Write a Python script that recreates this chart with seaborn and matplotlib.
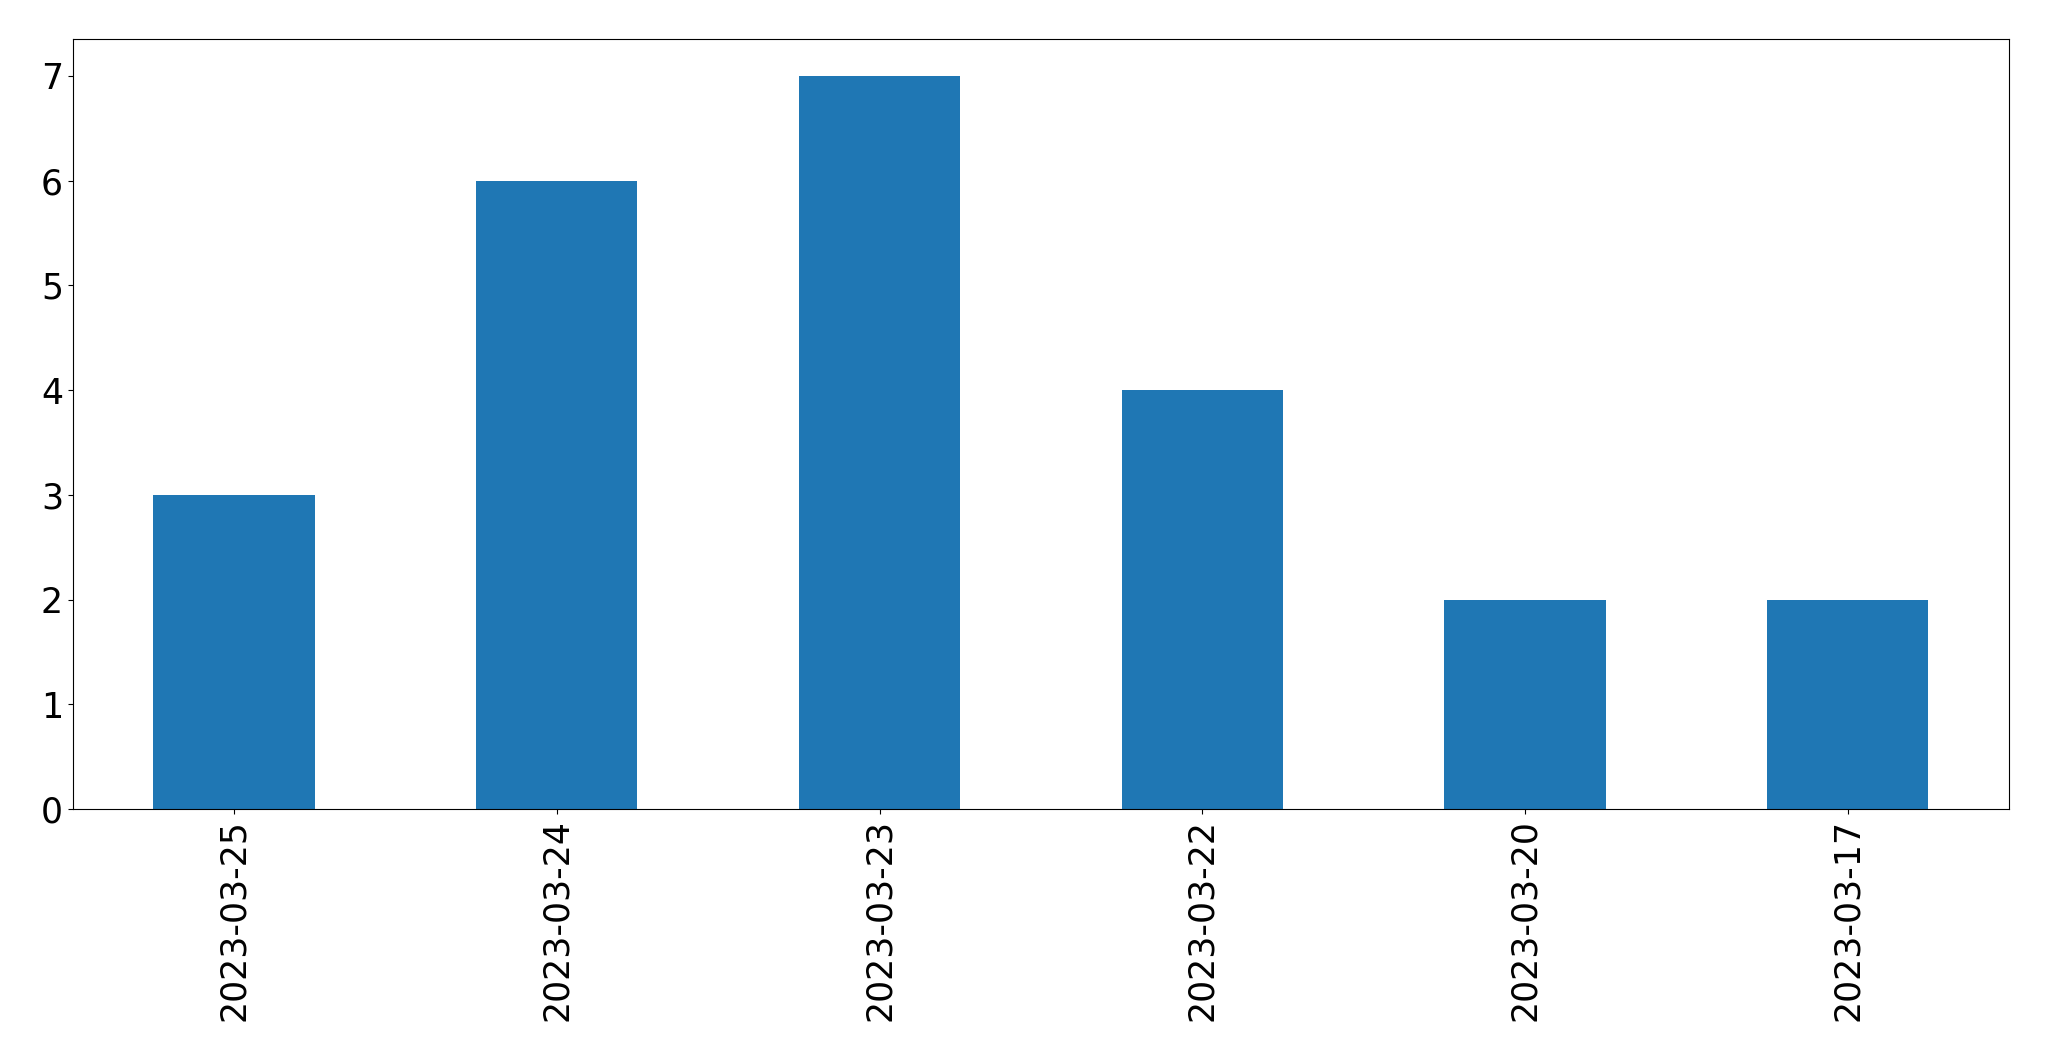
import matplotlib
matplotlib.use('Agg')
import matplotlib.pyplot as plt
import seaborn as sns
import pandas as pd

dates  = ['2023-03-25', '2023-03-24', '2023-03-23', '2023-03-22', '2023-03-20', '2023-03-17']
counts = [3, 6, 7, 4, 2, 2]

df = pd.DataFrame({'date': dates, 'count': counts})

fig = plt.figure(figsize=(20.49, 10.61), dpi=100)
ax = fig.add_axes([0.0355, 0.2375, 0.945, 0.7255])

sns.barplot(data=df, x='date', y='count', order=dates,
            color='#1f77b4', saturation=1, width=0.5, ax=ax)

ax.set_xlim(-0.5, len(dates) - 0.5)
ax.set_ylim(0, 7.35)
ax.set_xlabel('')
ax.set_ylabel('')
ax.tick_params(axis='both', labelsize=25)
ax.tick_params(axis='x', labelrotation=90)

fig.savefig('out.png', dpi=100)
